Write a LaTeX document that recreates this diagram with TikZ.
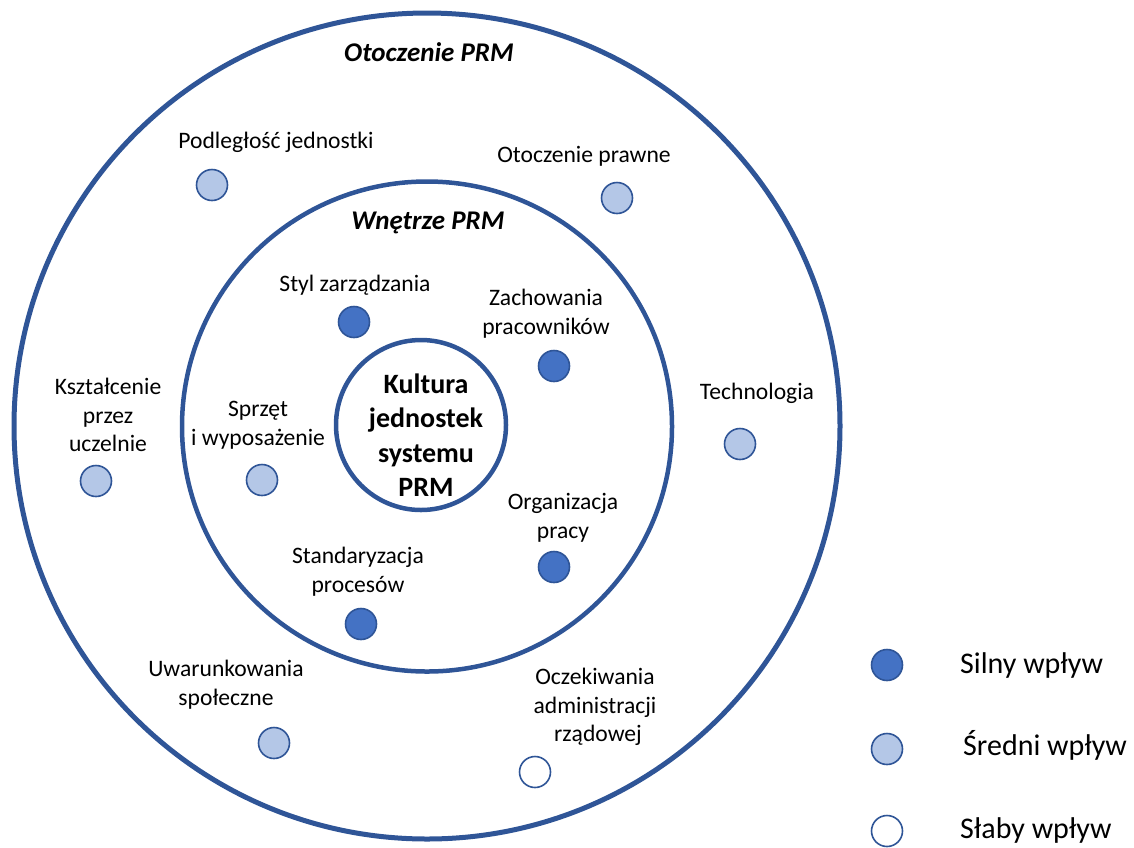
\documentclass[tikz,border=0pt]{standalone}
\usepackage{fontspec}
\setmainfont{Carlito}
\definecolor{ringblue}{HTML}{2F5597}
\definecolor{strongfill}{HTML}{4472C4}
\definecolor{midfill}{HTML}{B4C7E7}
\begin{document}
\begin{tikzpicture}[x=1pt,y=-1pt,
  ring/.style={draw=ringblue},
  dot/.style={circle,draw=ringblue,line width=1.6pt,minimum size=31pt,inner sep=0pt},
  strong/.style={dot,fill=strongfill},
  medium/.style={dot,fill=midfill},
  weak/.style={dot,fill=white},
  lbl/.style={inner sep=0pt,align=center,font=\fontsize{23.6}{28.8}\selectfont},
  title/.style={inner sep=0pt,font=\fontsize{27}{32}\selectfont\bfseries\itshape},
  legend/.style={inner sep=0pt,anchor=west,font=\fontsize{30}{36}\selectfont}]
\useasboundingbox (0,0) rectangle (1134,847);

% concentric rings
\draw[ring,line width=5pt] (427,426) circle[radius=413];
\draw[ring,line width=4.5pt] (427,426.5) circle[radius=245];
\draw[ring,line width=4.5pt] (421,425) circle[radius=85];

% ring titles
\node[title] (tOuter) at (429,52) {Otoczenie PRM};
\node[title] (tInner) at (428,223) {Wnętrze PRM};

% core
\node[inner sep=0pt,align=center,font=\fontsize{28}{34.5}\selectfont\bfseries] (core) at (426,435)
  {Kultura\\jednostek\\systemu\\PRM};

% outer factors
\node[lbl] (podl) at (276,142) {Podległość jednostki};
\node[medium] (dPodl) at (212,185) {};
\node[lbl] (prawne) at (584,156) {Otoczenie prawne};
\node[medium] (dPrawne) at (617,198) {};
\node[lbl] (ksztal) at (108,415) {Kształcenie\\przez\\uczelnie};
\node[medium] (dKsztal) at (96,481) {};
\node[lbl] (tech) at (757,393) {Technologia};
\node[medium] (dTech) at (740,444) {};
\node[lbl] (uwar) at (226,685) {Uwarunkowania\\społeczne};
\node[medium] (dUwar) at (274,743) {};
\node[lbl] (oczek) at (595,707) {Oczekiwania\\administracji\\\hspace*{6pt}rządowej};
\node[weak] (dOczek) at (535,772) {};

% inner factors
\node[lbl] (styl) at (355,285) {Styl zarządzania};
\node[strong] (dStyl) at (354,322) {};
\node[lbl] (zach) at (546,314) {Zachowania\\pracowników};
\node[strong] (dZach) at (554,366) {};
\node[lbl] (sprzet) at (258,425) {Sprzęt\\i wyposażenie};
\node[medium] (dSprzet) at (262,480) {};
\node[lbl] (org) at (563,518) {Organizacja\\pracy};
\node[strong] (dOrg) at (554,567) {};
\node[lbl] (stand) at (358,572) {Standaryzacja\\procesów};
\node[strong] (dStand) at (361,624) {};

% legend
\node[strong] (lgS) at (887,665) {};
\node[legend] (lgSt) at (960,665) {Silny wpływ};
\node[medium] (lgM) at (887,749) {};
\node[legend] (lgMt) at (963,745) {Średni wpływ};
\node[weak] (lgW) at (887,831) {};
\node[legend] (lgWt) at (960,830) {Słaby wpływ};
\end{tikzpicture}
\end{document}
